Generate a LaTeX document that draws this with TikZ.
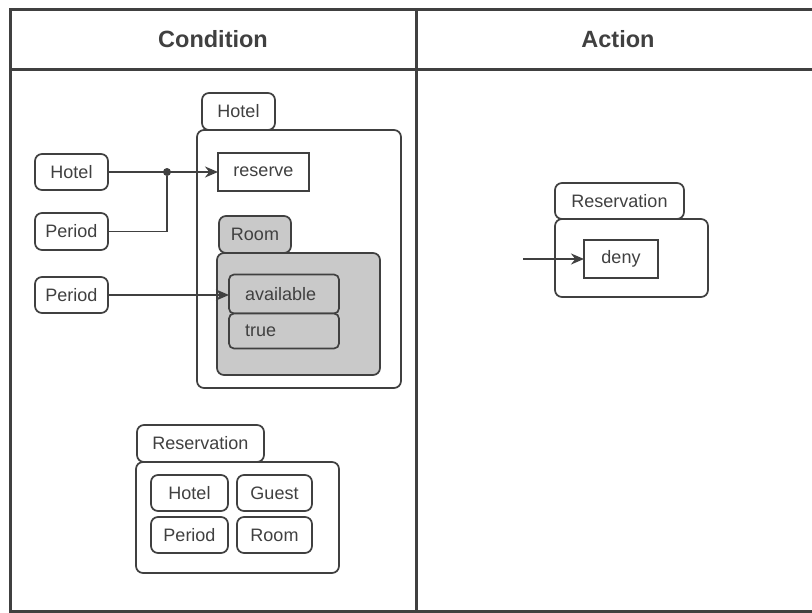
\documentclass[tikz,border=0pt]{standalone}
\usepackage{fontspec}
\setmainfont{Liberation Sans}
\usetikzlibrary{arrows.meta}
\definecolor{ink}{HTML}{404040}
\definecolor{shade}{HTML}{C9C9C9}

% \gbox[style]{name}{x1}{y1}{x2}{y2}{text}: a node filling the given corners
\newcommand\gbox[7][]{%
  \node[#1, minimum width={(#5)-(#3)}, minimum height={(#6)-(#4)}]
    (#2) at ({((#3)+(#5))/2},{((#4)+(#6))/2}) {#7};}

\begin{document}
\begin{tikzpicture}[x=1pt,y=-1pt,
  every node/.style={font=\fontsize{18}{21}\selectfont, text=ink,
    inner sep=0pt, outer sep=0pt},
  frame/.style={draw=ink, line width=3pt},
  pill/.style={draw=ink, line width=1.7pt, rounded corners=7pt, fill=white},
  shaded/.style={pill, fill=shade},
  slot/.style={draw=ink, line width=1.7pt, rounded corners=5pt, fill=shade,
    inner xsep=16pt, text width=78pt, align=left},
  plain/.style={draw=ink, line width=1.7pt, fill=white},
  wire/.style={draw=ink, line width=1.8pt},
  arr/.style={wire, -{Stealth[length=13pt,width=11pt]}},
  head/.style={font=\fontsize{23.5}{26}\selectfont\bfseries},
]
\useasboundingbox (0,0) rectangle (812,613);

% table frame
\draw[frame] (812,9) -- (10,9) -- (10,611) -- (812,611);
\draw[frame] (10,69) -- (812,69);
\draw[frame] (416,9) -- (416,611);
\node[head] (hcond) at (213,39) {Condition};
\node[head] (hact) at (618,39) {Action};

% Hotel object with its reserve operation and Room part
\gbox[pill]{hotelbody}{197}{130}{401}{388}{}
\gbox[pill]{hoteltab}{202}{93}{275}{130}{Hotel}
\gbox[plain]{reserve}{218}{153}{309}{191}{reserve}
\gbox[shaded]{roombody}{217}{253}{380}{375}{}
\gbox[shaded]{roomtab}{219}{216}{291}{253}{Room}
\node[slot, minimum height=39pt] (avail) at (284,294) {available};
\node[slot, minimum height=35pt] (true) at (284,331) {true};

% inputs on the left
\gbox[pill]{lhotel}{35}{154}{108}{190}{Hotel}
\gbox[pill]{lper}{35}{213}{108}{250}{Period}
\gbox[pill]{lpertwo}{35}{277}{108}{313}{Period}
\node[circle, fill=ink, minimum size=8pt] (dot) at (167,172) {};

\draw[arr] (lhotel.east) -- (reserve.west);
\draw[wire] (lper.east) -| (dot.south);
\draw[arr] (lpertwo.east) -- (lpertwo.east -| avail.west);

% Reservation object
\gbox[pill]{resbody}{136}{462}{339}{573}{}
\gbox[pill]{restab}{137}{425}{264}{462}{Reservation}
\gbox[pill]{rhotel}{151}{475}{228}{511}{Hotel}
\gbox[pill]{rguest}{237}{475}{312}{511}{Guest}
\gbox[pill]{rperiod}{151}{517}{228}{553}{Period}
\gbox[pill]{rroom}{237}{517}{312}{553}{Room}

% action side
\gbox[pill]{abody}{555}{219}{708}{297}{}
\gbox[pill]{atab}{555}{183}{684}{219}{Reservation}
\gbox[plain]{deny}{584}{240}{658}{278}{deny}
\coordinate (src) at (523,259);
\draw[arr] (src) -- (src -| deny.west);
\end{tikzpicture}
\end{document}
